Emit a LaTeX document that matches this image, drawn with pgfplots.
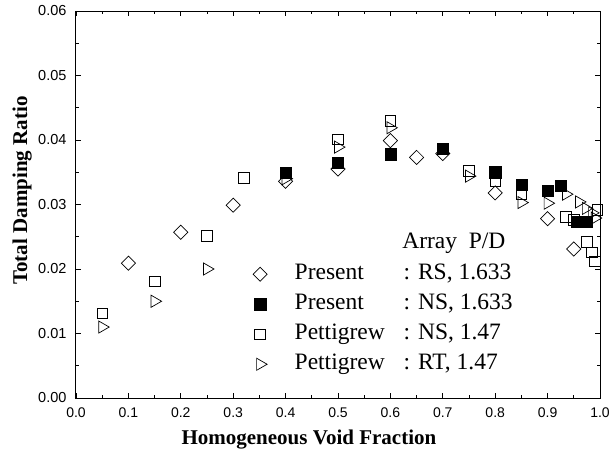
\documentclass[border=0pt]{standalone}
\usepackage{fontspec}
\setmainfont{Liberation Serif}
\newfontfamily\arialfont{Liberation Sans}
\usepackage{pgfplots}
\pgfplotsset{compat=1.18}

\begin{document}
\begin{tikzpicture}
\useasboundingbox (-76pt,-61pt) rectangle (535pt,398pt);
\begin{axis}[
  at={(0,0)}, anchor=south west,
  scale only axis, width=524pt, height=387pt,
  xmin=0, xmax=1, ymin=0, ymax=0.06,
  xtick={0,0.1,0.2,0.3,0.4,0.5,0.6,0.7,0.8,0.9,1.0},
  ytick={0,0.01,0.02,0.03,0.04,0.05,0.06},
  minor x tick num=1, minor y tick num=1,
  tick align=inside,
  major tick length=5pt, minor tick length=3pt,
  axis line style={line width=1pt},
  tick style={line width=0.8pt, black},
  scaled x ticks=false, scaled y ticks=false,
  xticklabel style={font=\arialfont\fontsize{14}{16}\selectfont, yshift=-6pt,
    /pgf/number format/.cd, fixed, fixed zerofill, precision=1, assume math mode=true},
  yticklabel style={font=\arialfont\fontsize{14.5}{16}\selectfont, xshift=-6pt,
    /pgf/number format/.cd, fixed, fixed zerofill, precision=2, assume math mode=true},
  xlabel={Homogeneous Void Fraction},
  ylabel={Total Damping Ratio},
  xlabel style={font=\bfseries\fontsize{21}{24}\selectfont, at={(rel axis cs:0.4445,-0.108)}, anchor=center},
  ylabel style={font=\bfseries\fontsize{21}{24}\selectfont, at={(rel axis cs:-0.1027,0.536)}, anchor=center},
  legend style={at={(rel axis cs:0.3375,0.350)}, anchor=north west, draw=none, fill=none,
    inner sep=0pt, font=\fontsize{23.5}{28}\selectfont,
    nodes={inner sep=0pt, text height=17pt, text depth=6pt},
    cells={anchor=west}, column sep=27.5pt, row sep=7pt},
]
% Present: RS, 1.633
\addplot[only marks, mark=square, mark size=5pt, mark options={rotate=45, line width=0.7pt, black}] coordinates {
  (0.1,0.0209) (0.2,0.0257) (0.3,0.0299) (0.4,0.0336) (0.5,0.0355) (0.6,0.0399)
  (0.65,0.0373) (0.7,0.0379) (0.8,0.0318) (0.9,0.0278) (0.95,0.0231)
};
\addlegendentry{\makebox[109pt][l]{Present}: RS, 1.633}
% Present: NS, 1.633
\addplot[only marks, mark=square*, mark size=5.6pt, mark options={black, fill=black}] coordinates {
  (0.4,0.0349) (0.5,0.0365) (0.6,0.0378) (0.7,0.0386) (0.8,0.0350) (0.85,0.0331)
  (0.9,0.0321) (0.925,0.0329) (0.955,0.0273) (0.975,0.0273)
};
\addlegendentry{\makebox[109pt][l]{Present}: NS, 1.633}
% Pettigrew: NS, 1.47
\addplot[only marks, mark=square, mark size=5.3pt, mark options={line width=0.7pt, black}] coordinates {
  (0.05,0.0131) (0.15,0.0181) (0.25,0.0251) (0.32,0.0341) (0.5,0.0401) (0.6,0.0430)
  (0.75,0.0352) (0.8,0.0337) (0.85,0.0316) (0.935,0.0281) (0.95,0.0276) (0.975,0.0242)
  (0.985,0.0226) (0.99,0.0212) (0.995,0.0292)
};
\addlegendentry{\makebox[109pt][l]{Pettigrew}: NS, 1.47}
% Pettigrew: RT, 1.47
\addplot[only marks, mark=triangle, mark size=7pt, mark options={rotate=-90, line width=0.7pt, black}] coordinates {
  (0.05,0.0110) (0.15,0.0150) (0.25,0.0200) (0.4,0.0340) (0.5,0.0389) (0.6,0.0419)
  (0.75,0.0344) (0.85,0.0303) (0.9,0.0302) (0.935,0.0316) (0.96,0.0304) (0.973,0.0294)
  (0.985,0.0287) (0.99,0.0279)
};
\addlegendentry{\makebox[109pt][l]{Pettigrew}: RT, 1.47}
\node[anchor=base west, font=\fontsize{23.5}{28}\selectfont] at (axis cs:0.616,0.02315) {Array\ \ P/D};
\end{axis}
\end{tikzpicture}
\end{document}
